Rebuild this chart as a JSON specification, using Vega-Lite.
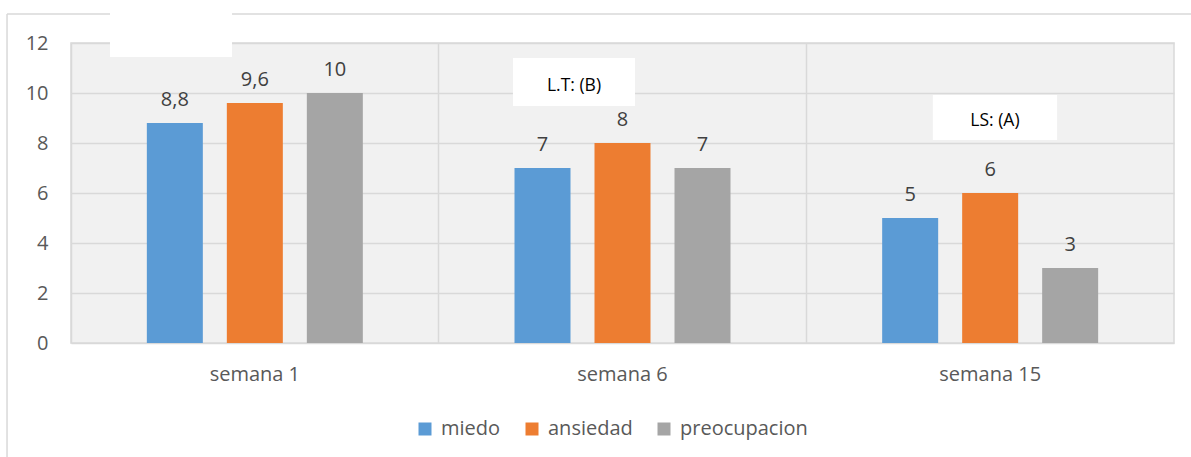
{
  "$schema": "https://vega.github.io/schema/vega-lite/v6.json",
  "autosize": {"type": "none"},
  "width": 1103,
  "height": 300,
  "padding": {"left": 71, "top": 43, "right": 17, "bottom": 114},
  "background": "#ffffff",
  "view": {"fill": "#f1f1f1", "stroke": "#d9d9d9", "strokeWidth": 1.5},
  "config": {"font": "Open Sans"},
  "resolve": {"scale": {"x": "independent"}},
  "layer": [
    {
      "data": {"values": [
        {"x": -0.174, "x2": -0.174, "y": 13.16, "y2": -4.7},
        {"x": -0.174, "x2": 3.06, "y": 13.16, "y2": 13.16}
      ]},
      "mark": {"type": "rule", "color": "#d9d9d9", "strokeWidth": 1.5, "clip": false},
      "encoding": {
        "x": {"field": "x", "type": "quantitative", "scale": {"domain": [0, 3], "nice": false, "zero": false}, "axis": null},
        "x2": {"field": "x2"},
        "y": {"field": "y", "type": "quantitative"},
        "y2": {"field": "y2"}
      }
    },
    {
      "data": {"values": [
        {"sem": "semana 1", "serie": "miedo", "valor": 8.8, "label": "8,8"},
        {"sem": "semana 1", "serie": "ansiedad", "valor": 9.6, "label": "9,6"},
        {"sem": "semana 1", "serie": "preocupacion", "valor": 10, "label": "10"},
        {"sem": "semana 6", "serie": "miedo", "valor": 7, "label": "7"},
        {"sem": "semana 6", "serie": "ansiedad", "valor": 8, "label": "8"},
        {"sem": "semana 6", "serie": "preocupacion", "valor": 7, "label": "7"},
        {"sem": "semana 15", "serie": "miedo", "valor": 5, "label": "5"},
        {"sem": "semana 15", "serie": "ansiedad", "valor": 6, "label": "6"},
        {"sem": "semana 15", "serie": "preocupacion", "valor": 3, "label": "3"}
      ]},
      "encoding": {
        "x": {"field": "sem", "type": "nominal", "sort": ["semana 1", "semana 6", "semana 15"],
              "scale": {"paddingInner": 0, "paddingOuter": 0},
              "axis": {"title": null, "labelAngle": 0, "labelFontSize": 20, "labelColor": "#595959", "labelPadding": 21,
                       "tickSize": 0, "domain": false, "grid": true, "bandPosition": 0, "gridColor": "#d9d9d9", "gridWidth": 1.5}},
        "xOffset": {"field": "serie", "type": "nominal", "sort": ["miedo", "ansiedad", "preocupacion"],
                    "scale": {"paddingInner": 0.3, "paddingOuter": 0.948}},
        "y": {"field": "valor", "type": "quantitative",
              "scale": {"domain": [0, 12], "nice": false},
              "axis": {"title": null, "values": [0, 2, 4, 6, 8, 10, 12], "labelFontSize": 20, "labelColor": "#595959",
                       "labelPadding": 23, "tickSize": 0, "domain": false, "gridColor": "#d9d9d9", "gridWidth": 1.5}}
      },
      "layer": [
        {
          "mark": {"type": "bar"},
          "encoding": {
            "color": {"field": "serie", "type": "nominal",
                      "scale": {"domain": ["miedo", "ansiedad", "preocupacion"], "range": ["#5b9bd5", "#ed7d31", "#a5a5a5"]},
                      "legend": {"title": null, "orient": "none", "legendX": 344, "legendY": 376, "direction": "horizontal", "symbolType": "square",
                                 "symbolSize": 169, "symbolStrokeWidth": 0, "labelFontSize": 20, "labelColor": "#595959",
                                 "columnPadding": 21, "labelOffset": 6}}
          }
        },
        {
          "mark": {"type": "text", "baseline": "alphabetic", "dy": -17, "fontSize": 20, "color": "#404040"},
          "encoding": {"text": {"field": "label"}}
        }
      ]
    },
    {
      "data": {"values": [
        {"x": 0.106, "x2": 0.438, "y": 13.8, "y2": 11.44},
        {"x": 1.202, "x2": 1.534, "y": 11.4, "y2": 9.48},
        {"x": 2.344, "x2": 2.682, "y": 9.92, "y2": 8.12}
      ]},
      "mark": {"type": "rect", "color": "#ffffff", "clip": false},
      "encoding": {
        "x": {"field": "x", "type": "quantitative", "scale": {"domain": [0, 3], "nice": false, "zero": false}, "axis": null},
        "x2": {"field": "x2"},
        "y": {"field": "y", "type": "quantitative"},
        "y2": {"field": "y2"}
      }
    },
    {
      "data": {"values": [
        {"x": 1.368, "y": 10.28, "txt": "L.T: (B)"},
        {"x": 2.513, "y": 8.9, "txt": "LS: (A)"}
      ]},
      "mark": {"type": "text", "fontSize": 17.5, "color": "#000000", "baseline": "middle", "align": "center"},
      "encoding": {
        "x": {"field": "x", "type": "quantitative", "scale": {"domain": [0, 3], "nice": false, "zero": false}, "axis": null},
        "y": {"field": "y", "type": "quantitative"},
        "text": {"field": "txt"}
      }
    }
  ]
}
